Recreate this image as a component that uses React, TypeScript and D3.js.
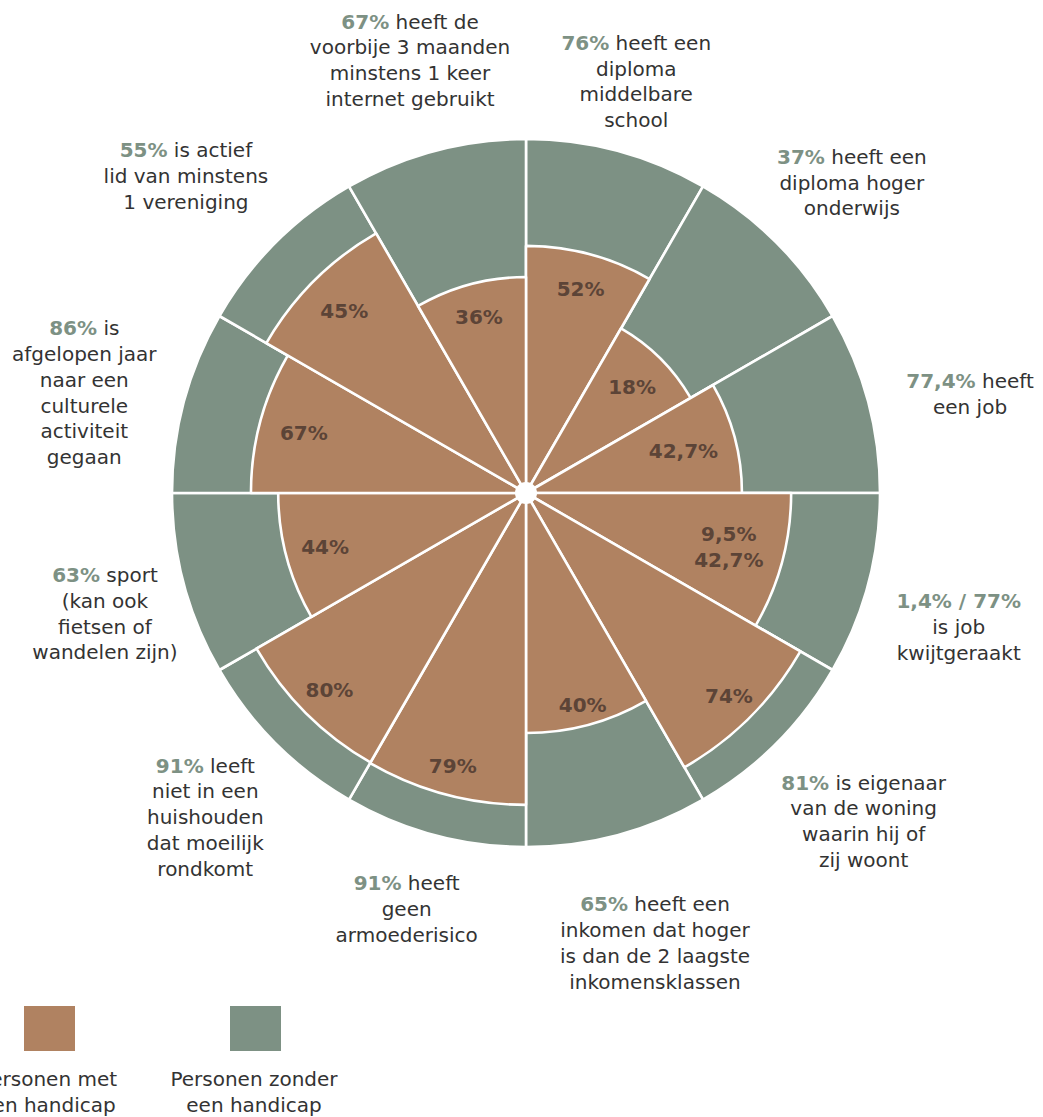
import React from 'react';
import * as d3 from 'd3';

// indicator descriptions, clockwise from 12 o'clock (text after the percentage)
const categories: string[][] = [
  ['heeft een', 'diploma', 'middelbare', 'school'],
  ['heeft een', 'diploma hoger', 'onderwijs'],
  ['heeft', 'een job'],
  ['', 'is job', 'kwijtgeraakt'],
  ['is eigenaar', 'van de woning', 'waarin hij of', 'zij woont'],
  ['heeft een', 'inkomen dat hoger', 'is dan de 2 laagste', 'inkomensklassen'],
  ['heeft', 'geen', 'armoederisico'],
  ['leeft', 'niet in een', 'huishouden', 'dat moeilijk', 'rondkomt'],
  ['sport', '(kan ook', 'fietsen of', 'wandelen zijn)'],
  ['is', 'afgelopen jaar', 'naar een', 'culturele', 'activiteit', 'gegaan'],
  ['is actief', 'lid van minstens', '1 vereniging'],
  ['heeft de', 'voorbije 3 maanden', 'minstens 1 keer', 'internet gebruikt'],
];

// personen zonder handicap (outer, green)
const withoutLabels = ['76%', '37%', '77,4%', '1,4% / 77%', '81%', '65%', '91%', '91%', '63%', '86%', '55%', '67%'];

// personen met handicap (inner, brown)
const withLabels = ['52%', '18%', '42,7%', '9,5%\n42,7%', '74%', '40%', '79%', '80%', '44%', '67%', '45%', '36%'];

// relative radius of the brown wedge, as share of the green one
const withShare = [0.698, 0.537, 0.61, 0.749, 0.895, 0.678, 0.881, 0.879, 0.7, 0.777, 0.847, 0.61];

const legendItems = [
  ['Personen met', 'een handicap'],
  ['Personen zonder', 'een handicap'],
];

// layout
const W = 1043;
const H = 1117;
const CX = 526;
const CY = 493;
const R = 354;
const BROWN = '#b08261';
const GREEN = '#7d9184';
const INNER_TEXT = '#5c4437';
const TEXT = '#333333';
const FONT = '"DejaVu Sans", Verdana, sans-serif';
const LINE_H = 25.8;

// label anchors: [angle in degrees, distance from centre]
const outerLabelPos: [number, number][] = [
  [15, 426], [46.4, 450], [77.4, 455], [107.2, 453], [134.2, 471], [164, 468],
  [196, 433], [224.7, 456], [254, 438], [282.8, 453], [313, 465], [345, 448],
];
const innerLabelDist = [211, 150, 163, 210, 287, 219, 283, 278, 208, 230, 257, 182];

const polar = (deg: number, dist: number) => {
  const a = (deg * Math.PI) / 180;
  return [dist * Math.sin(a), -dist * Math.cos(a)];
};

const App: React.FC = () => {
  const rScale = d3.scaleLinear().domain([0, 1]).range([0, R]);

  const pie = d3.pie<string[]>().sort(null).value(() => 1);
  const slices = pie(categories);

  const arc = d3.arc<d3.PieArcDatum<string[]>>().innerRadius(0);

  return (
    <div style={{ position: 'fixed', left: 0, top: 0, width: W, height: H, background: '#fff' }}>
      <svg width={W} height={H} style={{ display: 'block', fontFamily: FONT }}>
        <g transform={`translate(${CX},${CY})`}>
          {slices.map((s, i) => (
            <path
              key={`g${i}`}
              d={arc.outerRadius(rScale(1))(s) || ''}
              fill={GREEN}
              stroke="#fff"
              strokeWidth={2.6}
              strokeLinejoin="round"
            />
          ))}
          {slices.map((s, i) => (
            <path
              key={`b${i}`}
              d={arc.outerRadius(rScale(withShare[i]))(s) || ''}
              fill={BROWN}
              stroke="#fff"
              strokeWidth={2.6}
              strokeLinejoin="round"
            />
          ))}
          <circle r={11} fill="#fff" />

          {slices.map((s, i) => {
            const mid = ((s.startAngle + s.endAngle) / 2) * (180 / Math.PI);
            const [x, y] = polar(mid, innerLabelDist[i]);
            const lines = withLabels[i].split('\n');
            return (
              <g key={`il${i}`}>
                {lines.map((ln, j) => (
                  <text
                    key={j}
                    x={x}
                    y={y + (j - (lines.length - 1) / 2) * 26}
                    textAnchor="middle"
                    dominantBaseline="central"
                    fontSize={20}
                    fontWeight="bold"
                    fill={INNER_TEXT}
                  >
                    {ln}
                  </text>
                ))}
              </g>
            );
          })}

          {categories.map((lines, i) => {
            const [deg, dist] = outerLabelPos[i];
            const [x, y] = polar(deg, dist);
            return (
              <g key={`ol${i}`} fontSize={20} fill={TEXT}>
                {lines.map((ln, j) => (
                  <text
                    key={j}
                    x={x}
                    y={y + (j - (lines.length - 1) / 2) * LINE_H}
                    textAnchor="middle"
                    dominantBaseline="central"
                  >
                    {j === 0 ? (
                      <>
                        <tspan fontWeight="bold" fill={GREEN}>{withoutLabels[i]}</tspan>
                        {ln ? <tspan>{' ' + ln}</tspan> : null}
                      </>
                    ) : (
                      ln
                    )}
                  </text>
                ))}
              </g>
            );
          })}
        </g>

        {legendItems.map((lines, i) => {
          const x0 = 24 + i * 206;
          return (
            <g key={`lg${i}`}>
              <rect x={x0} y={1006} width={51} height={45} fill={i === 0 ? BROWN : GREEN} />
              {lines.map((ln, j) => (
                <text
                  key={j}
                  x={x0 + 24}
                  y={1079 + j * 26}
                  textAnchor="middle"
                  dominantBaseline="central"
                  fontSize={20}
                  fill={TEXT}
                >
                  {ln}
                </text>
              ))}
            </g>
          );
        })}
      </svg>
    </div>
  );
};

export default App;
